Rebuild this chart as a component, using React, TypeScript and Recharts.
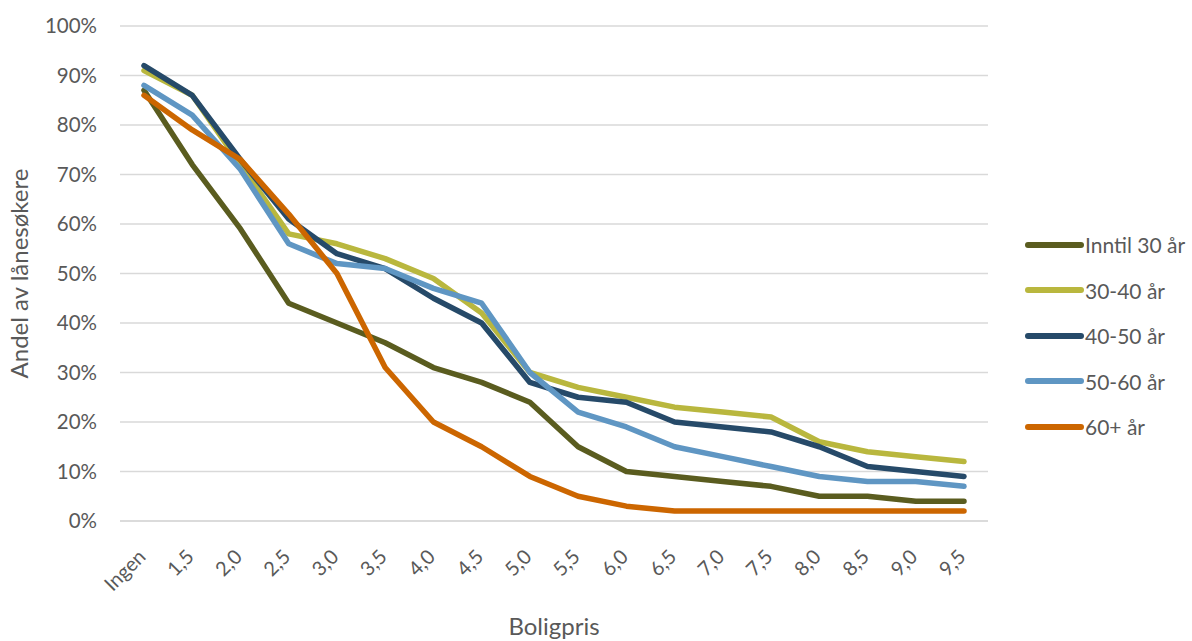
import React from 'react';
import { LineChart, Line, XAxis, YAxis, CartesianGrid, Label } from 'recharts';

// Boligpris (mill. kr) langs x-aksen
const prices = ['Ingen', '1,5', '2,0', '2,5', '3,0', '3,5', '4,0', '4,5', '5,0', '5,5', '6,0', '6,5', '7,0', '7,5', '8,0', '8,5', '9,0', '9,5'];

// Andel av lånesøkere (%) per aldersgruppe
const under30 = [87, 72, 59, 44, 40, 36, 31, 28, 24, 15, 10, 9, 8, 7, 5, 5, 4, 4];
const age30to40 = [91, 86, 72, 58, 56, 53, 49, 42, 30, 27, 25, 23, 22, 21, 16, 14, 13, 12];
const age40to50 = [92, 86, 73, 61, 54, 51, 45, 40, 28, 25, 24, 20, 19, 18, 15, 11, 10, 9];
const age50to60 = [88, 82, 71, 56, 52, 51, 47, 44, 30, 22, 19, 15, 13, 11, 9, 8, 8, 7];
const over60 = [86, 79, 73, 62, 50, 31, 20, 15, 9, 5, 3, 2, 2, 2, 2, 2, 2, 2];

const yTicks = [0, 10, 20, 30, 40, 50, 60, 70, 80, 90, 100];

const series = [
  { key: 'under30', name: 'Inntil 30 år', color: '#5A5C1F' },
  { key: 'age30to40', name: '30-40 år', color: '#B9B73E' },
  { key: 'age40to50', name: '40-50 år', color: '#264A69' },
  { key: 'age50to60', name: '50-60 år', color: '#5F96C3' },
  { key: 'over60', name: '60+ år', color: '#CC6600' },
];

const data = prices.map((p, i) => ({
  price: p,
  under30: under30[i],
  age30to40: age30to40[i],
  age40to50: age40to50[i],
  age50to60: age50to60[i],
  over60: over60[i],
}));

const FONT = 'Lato, "Open Sans", sans-serif';
const TEXT = '#595959';

const XTick = (props: any) => {
  const { x, y, payload } = props;
  return (
    <g transform={`translate(${x + 3},${y + 29})`}>
      <text textAnchor="end" transform="rotate(-45)" fill={TEXT} fontSize={20} fontFamily={FONT}>
        {payload.value}
      </text>
    </g>
  );
};

const YTick = (props: any) => {
  const { y, payload } = props;
  return (
    <text x={97} y={y} dy={7} textAnchor="end" fill={TEXT} fontSize={20.5} fontFamily={FONT}>
      {payload.value}%
    </text>
  );
};

// vertikal forklaring til høyre for plottet
const LegendBox = () => (
  <div
    style={{
      position: 'absolute',
      left: 1023,
      top: 222,
      fontFamily: FONT,
      fontSize: 21,
      color: TEXT,
      whiteSpace: 'nowrap',
    }}
  >
    {series.map((s) => (
      <div key={s.key} style={{ display: 'flex', alignItems: 'center', height: 45.5 }}>
        <svg width={62} height={10}>
          <line x1={5} y1={5} x2={58} y2={5} stroke={s.color} strokeWidth={6} strokeLinecap="round" />
        </svg>
        <span>{s.name}</span>
      </div>
    ))}
  </div>
);

export default function App() {
  return (
    <div style={{ position: 'absolute', left: 0, top: 0, width: 1192, height: 641, background: '#fff', overflow: 'hidden' }}>
      <LineChart
        width={1192}
        height={641}
        data={data}
        margin={{ top: 26, right: 204, left: 0, bottom: 0 }}
      >
        <CartesianGrid vertical={false} stroke="#D9D9D9" strokeWidth={1.5} />
        <XAxis
          dataKey="price"
          interval={0}
          tick={<XTick />}
          tickLine={false}
          axisLine={{ stroke: '#D9D9D9', strokeWidth: 1.5 }}
          padding={{ left: 24, right: 24 }}
          height={120}
        >
          <Label
            value="Boligpris"
            position="insideBottom"
            offset={6}
            fill={TEXT}
            fontSize={24}
            fontFamily={FONT}
          />
        </XAxis>
        <YAxis
          domain={[0, 100]}
          ticks={yTicks}
          width={120}
          tick={<YTick />}
          tickLine={false}
          axisLine={false}
        >
          <Label
            value="Andel av lånesøkere"
            angle={-90}
            position="insideLeft"
            offset={19}
            style={{ textAnchor: 'middle' }}
            fill={TEXT}
            fontSize={24}
            fontFamily={FONT}
          />
        </YAxis>
        {series.map((s) => (
          <Line
            key={s.key}
            dataKey={s.key}
            name={s.name}
            stroke={s.color}
            strokeWidth={5.5}
            strokeLinecap="round"
            strokeLinejoin="round"
            dot={false}
            activeDot={false}
            isAnimationActive={false}
          />
        ))}
      </LineChart>
      <LegendBox />
    </div>
  );
}
